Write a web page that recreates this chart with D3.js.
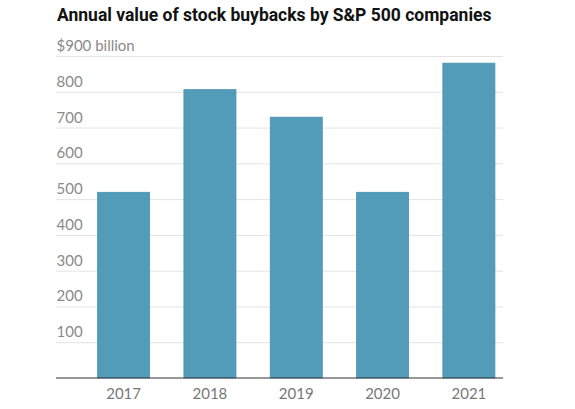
<!DOCTYPE html>
<html><head><meta charset="utf-8">
<script src="https://cdn.jsdelivr.net/npm/d3@7"></script>
<style>
body{margin:0;background:#fff;}
svg{display:block;}
</style></head>
<body>
<svg id="chart" width="575" height="409"></svg>
<script>
const years = ["2017", "2018", "2019", "2020", "2021"];
const buybacks = [519, 806, 729, 519, 880];
const yTicks = [100, 200, 300, 400, 500, 600, 700, 800, 900];
const title = "Annual value of stock buybacks by S&P 500 companies";

const svg = d3.select("#chart");
const gridLeft = 56, gridRight = 503;
const y = d3.scaleLinear().domain([0, 900]).range([378, 56]);
const x = d3.scaleBand().domain(years).range([76, 516.5]).paddingInner(0.397).paddingOuter(0.25);

svg.append("text").attr("x", 57).attr("y", 20.5)
  .attr("font-family", "Roboto, 'Liberation Sans', sans-serif")
  .attr("font-weight", 700).attr("font-size", 17.5).attr("fill", "#121212")
  .text(title);

svg.append("g").selectAll("line").data(yTicks).join("line")
  .attr("x1", gridLeft).attr("x2", gridRight)
  .attr("y1", d => y(d) + 0.5).attr("y2", d => y(d) + 0.5)
  .attr("stroke", "#e3e3e3").attr("stroke-width", 1);

svg.append("g").selectAll("text").data(yTicks).join("text")
  .attr("x", 56.5).attr("y", d => y(d) - 5)
  .attr("font-family", "Lato, sans-serif").attr("font-size", 15).attr("fill", "#8a8a8a")
  .text(d => d === 900 ? "$900 billion" : d);

svg.append("g").selectAll("rect").data(years).join("rect")
  .attr("x", d => x(d)).attr("width", x.bandwidth())
  .attr("y", (d, i) => y(buybacks[i])).attr("height", (d, i) => y(0) - y(buybacks[i]))
  .attr("fill", "#529bb9").attr("stroke", "#4a93b2").attr("stroke-width", 0.8);

svg.append("line").attr("x1", gridLeft).attr("x2", gridRight)
  .attr("y1", y(0)).attr("y2", y(0)).attr("stroke", "#333").attr("stroke-width", 1.2);

const xAxis = d3.axisBottom(x).tickSize(0).tickPadding(10);
const gx = svg.append("g").attr("transform", `translate(0,${y(0)})`).call(xAxis);
gx.select(".domain").remove();
gx.selectAll("text").attr("font-family", "Lato, sans-serif").attr("font-size", 15).attr("fill", "#777");
</script>
</body></html>
